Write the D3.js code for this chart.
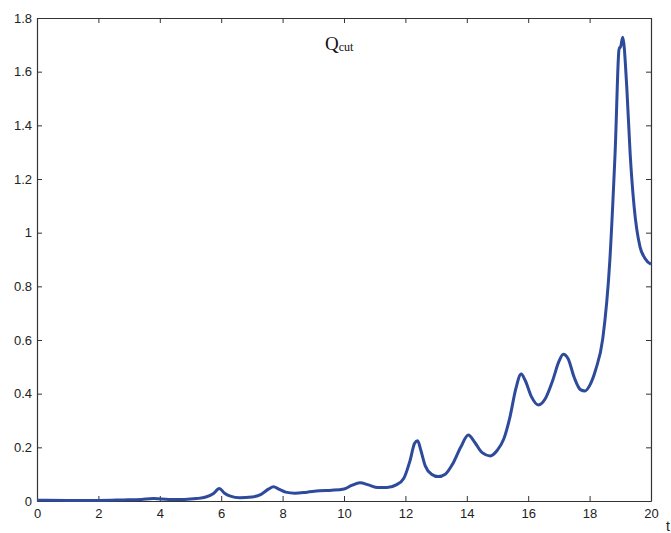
<!DOCTYPE html>
<html>
<head>
<meta charset="utf-8">
<script src="https://cdn.jsdelivr.net/npm/d3@7"></script>
<style>
  body { margin: 0; background: #fff; }
  svg { display: block; }
  .tick text { font-family: "Liberation Sans", Arial, sans-serif; font-size: 13px; fill: #222; }
</style>
</head>
<body>
<svg id="chart"></svg>
<script>
// values
const tValues = [0, 1, 2, 2.8, 3.4, 3.8, 4.3, 4.8, 5.2, 5.5, 5.75, 5.94, 6.1, 6.3, 6.6, 7.0, 7.3, 7.55, 7.7, 7.9,
  8.1, 8.4, 8.8, 9.2, 9.6, 10.0, 10.25, 10.52, 10.8, 11.1, 11.4, 11.7, 11.95, 12.15, 12.3, 12.4, 12.5, 12.65, 12.85,
  13.07, 13.3, 13.55, 13.8, 14.05, 14.25, 14.5, 14.76, 15.0, 15.2, 15.4, 15.6, 15.77, 15.9, 16.1, 16.33, 16.55, 16.8,
  17.0, 17.14, 17.3, 17.5, 17.7, 17.85, 18.0, 18.2, 18.43, 18.66, 18.83, 18.97, 19.0, 19.08, 19.21, 19.32, 19.45,
  19.64, 19.8, 20];
const qValues = [0.003, 0.002, 0.002, 0.004, 0.006, 0.009, 0.006, 0.006, 0.009, 0.015, 0.028, 0.047, 0.03, 0.018,
  0.012, 0.015, 0.025, 0.045, 0.053, 0.043, 0.033, 0.029, 0.033, 0.038, 0.040, 0.045, 0.058, 0.068, 0.06, 0.05,
  0.05, 0.06, 0.085, 0.15, 0.215, 0.225, 0.19, 0.13, 0.10, 0.091, 0.10, 0.14, 0.2, 0.246, 0.22, 0.18, 0.168, 0.19,
  0.23, 0.31, 0.42, 0.473, 0.45, 0.39, 0.358, 0.38, 0.45, 0.52, 0.547, 0.53, 0.46, 0.415, 0.41, 0.43, 0.49, 0.606,
  0.898, 1.296, 1.69, 1.69, 1.728, 1.544, 1.296, 1.097, 0.948, 0.905, 0.882];
const xTicks = [0, 2, 4, 6, 8, 10, 12, 14, 16, 18, 20];
const yTicks = [0, 0.2, 0.4, 0.6, 0.8, 1, 1.2, 1.4, 1.6, 1.8];

const width = 671, height = 533;
const margin = {top: 18, right: 20, bottom: 32, left: 37};
const innerW = width - margin.left - margin.right;
const innerH = height - margin.top - margin.bottom;

const svg = d3.select('#chart')
    .attr('width', width)
    .attr('height', height);

const g = svg.append('g')
    .attr('transform', `translate(${margin.left},${margin.top})`);

const x = d3.scaleLinear().domain([0, 20]).range([0, innerW]);
const y = d3.scaleLinear().domain([0, 1.8]).range([innerH, 0]);

const fmt = d => d3.format('~g')(d);

// axes, ticks pointing inward like the matlab box
const axisColor = '#333';
const axBottom = g.append('g')
    .attr('transform', `translate(0,${innerH})`)
    .call(d3.axisBottom(x).tickValues(xTicks).tickFormat(fmt).tickSizeInner(-5).tickSizeOuter(0).tickPadding(8));
const axLeft = g.append('g')
    .call(d3.axisLeft(y).tickValues(yTicks).tickFormat(fmt).tickSizeInner(-5).tickSizeOuter(0).tickPadding(4));
const axTop = g.append('g')
    .call(d3.axisTop(x).tickValues(xTicks).tickFormat('').tickSizeInner(-5).tickSizeOuter(0));
const axRight = g.append('g')
    .attr('transform', `translate(${innerW},0)`)
    .call(d3.axisRight(y).tickValues(yTicks).tickFormat('').tickSizeInner(-5).tickSizeOuter(0));

[axBottom, axLeft, axTop, axRight].forEach(a => {
  a.select('.domain').attr('stroke', axisColor).attr('stroke-width', 1.2);
  a.selectAll('.tick line').attr('stroke', axisColor);
});
axLeft.selectAll('.tick text').attr('dx', '-1');

// curve
const data = tValues.map((t, i) => ({t: t, q: qValues[i]}));
const line = d3.line()
    .x(d => x(d.t))
    .y(d => y(d.q))
    .curve(d3.curveMonotoneX);

g.append('path')
    .datum(data)
    .attr('d', line)
    .attr('fill', 'none')
    .attr('stroke', '#2E4A9B')
    .attr('stroke-width', 3)
    .attr('stroke-linejoin', 'round');

// title inside the plot
const title = svg.append('text')
    .attr('x', 325)
    .attr('y', 50)
    .style('font-family', '"Liberation Serif", "Times New Roman", serif')
    .style('fill', '#111');
title.append('tspan').style('font-size', '19px').text('Q');
title.append('tspan').style('font-size', '12px').attr('dy', 1).text('cut');

// axis label, partly cut by the window edge
svg.append('text')
    .attr('x', 666)
    .attr('y', 531)
    .style('font-family', '"Liberation Sans", Arial, sans-serif')
    .style('font-size', '14px')
    .style('fill', '#222')
    .text('t');
</script>
</body>
</html>
